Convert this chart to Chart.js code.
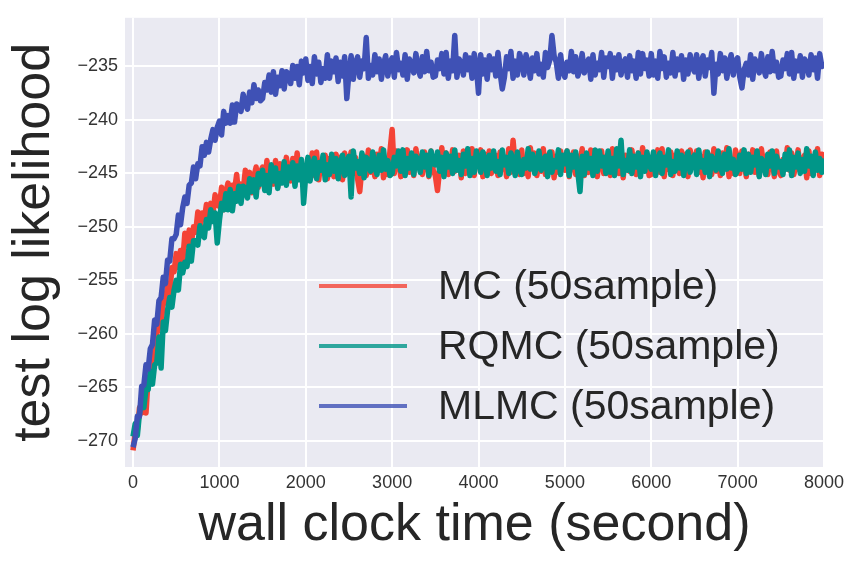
<!DOCTYPE html>
<html>
<head>
<meta charset="utf-8">
<script src="https://cdn.jsdelivr.net/npm/chart.js@4.4.1/dist/chart.umd.min.js"></script>
<style>
  html, body { margin: 0; padding: 0; background: #fff; }
  #wrap { width: 861px; height: 565px; }
</style>
</head>
<body>
<div id="wrap"><canvas id="chart" width="861" height="565"></canvas></div>
<script>
// wall clock time (s), one sample every 25 s
const times = [
  0, 25, 50, 75, 100, 125, 150, 175, 200, 225, 250, 275, 300, 325, 350, 375, 400, 425, 450, 475,
  500, 525, 550, 575, 600, 625, 650, 675, 700, 725, 750, 775, 800, 825, 850, 875, 900, 925, 950, 975,
  1000, 1025, 1050, 1075, 1100, 1125, 1150, 1175, 1200, 1225, 1250, 1275, 1300, 1325, 1350, 1375, 1400, 1425, 1450, 1475,
  1500, 1525, 1550, 1575, 1600, 1625, 1650, 1675, 1700, 1725, 1750, 1775, 1800, 1825, 1850, 1875, 1900, 1925, 1950, 1975,
  2000, 2025, 2050, 2075, 2100, 2125, 2150, 2175, 2200, 2225, 2250, 2275, 2300, 2325, 2350, 2375, 2400, 2425, 2450, 2475,
  2500, 2525, 2550, 2575, 2600, 2625, 2650, 2675, 2700, 2725, 2750, 2775, 2800, 2825, 2850, 2875, 2900, 2925, 2950, 2975,
  3000, 3025, 3050, 3075, 3100, 3125, 3150, 3175, 3200, 3225, 3250, 3275, 3300, 3325, 3350, 3375, 3400, 3425, 3450, 3475,
  3500, 3525, 3550, 3575, 3600, 3625, 3650, 3675, 3700, 3725, 3750, 3775, 3800, 3825, 3850, 3875, 3900, 3925, 3950, 3975,
  4000, 4025, 4050, 4075, 4100, 4125, 4150, 4175, 4200, 4225, 4250, 4275, 4300, 4325, 4350, 4375, 4400, 4425, 4450, 4475,
  4500, 4525, 4550, 4575, 4600, 4625, 4650, 4675, 4700, 4725, 4750, 4775, 4800, 4825, 4850, 4875, 4900, 4925, 4950, 4975,
  5000, 5025, 5050, 5075, 5100, 5125, 5150, 5175, 5200, 5225, 5250, 5275, 5300, 5325, 5350, 5375, 5400, 5425, 5450, 5475,
  5500, 5525, 5550, 5575, 5600, 5625, 5650, 5675, 5700, 5725, 5750, 5775, 5800, 5825, 5850, 5875, 5900, 5925, 5950, 5975,
  6000, 6025, 6050, 6075, 6100, 6125, 6150, 6175, 6200, 6225, 6250, 6275, 6300, 6325, 6350, 6375, 6400, 6425, 6450, 6475,
  6500, 6525, 6550, 6575, 6600, 6625, 6650, 6675, 6700, 6725, 6750, 6775, 6800, 6825, 6850, 6875, 6900, 6925, 6950, 6975,
  7000, 7025, 7050, 7075, 7100, 7125, 7150, 7175, 7200, 7225, 7250, 7275, 7300, 7325, 7350, 7375, 7400, 7425, 7450, 7475,
  7500, 7525, 7550, 7575, 7600, 7625, 7650, 7675, 7700, 7725, 7750, 7775, 7800, 7825, 7850, 7875, 7900, 7925, 7950, 7975,
  8000
];

const mcValues = [
  -270.9, -269.2, -269.0, -266.9, -267.4, -265.0, -267.4, -264.1, -263.9, -261.8, -262.4, -260.0, -259.3, -259.3, -256.9, -257.1, -255.4, -256.3, -253.8, -254.2,
  -252.5, -253.8, -252.2, -253.3, -250.6, -251.7, -250.3, -251.6, -250.0, -250.5, -248.6, -250.3, -248.7, -249.3, -247.9, -249.7, -247.8, -248.8, -247.0, -247.9,
  -248.1, -246.3, -248.4, -246.7, -245.9, -247.7, -246.1, -246.6, -245.1, -247.3, -246.0, -246.7, -244.7, -246.2, -244.9, -246.8, -245.3, -244.4, -246.3, -244.9,
  -244.4, -246.4, -243.8, -245.5, -244.8, -246.0, -243.8, -246.3, -244.1, -244.7, -245.5, -243.5, -244.9, -245.7, -243.6, -245.2, -243.1, -245.1, -244.1, -245.6,
  -245.4, -243.7, -244.6, -243.1, -245.2, -243.0, -245.6, -243.9, -244.9, -243.3, -245.5, -243.6, -244.1, -245.3, -243.2, -244.7, -243.5, -245.6, -243.1, -244.4,
  -244.3, -243.0, -245.0, -243.5, -245.5, -246.7, -244.5, -243.4, -245.2, -242.8, -244.9, -243.9, -245.3, -243.2, -244.4, -242.7, -245.4, -243.7, -245.1, -242.9,
  -240.9, -245.0, -242.9, -243.8, -245.3, -243.2, -244.6, -242.8, -244.9, -243.9, -245.2, -242.7, -244.2, -243.4, -245.1, -243.0, -243.7, -245.3, -242.9, -244.7,
  -245.2, -246.6, -244.6, -242.6, -244.7, -243.1, -245.1, -244.3, -242.8, -244.8, -243.9, -243.3, -245.4, -242.9, -245.0, -243.8, -244.4, -242.7, -245.2, -243.2,
  -244.1, -242.8, -245.3, -243.2, -244.4, -242.9, -245.0, -243.8, -243.3, -245.2, -243.0, -244.6, -243.6, -245.3, -242.7, -244.9, -241.9, -244.3, -243.4, -245.1,
  -242.8, -245.0, -243.6, -245.3, -242.6, -244.3, -243.1, -245.2, -243.8, -244.8, -242.7, -245.1, -243.3, -244.4, -243.0, -245.4, -243.4, -244.9, -242.9, -244.2,
  -244.7, -242.9, -245.3, -243.7, -243.0, -245.1, -243.4, -244.2, -242.7, -245.2, -243.9, -244.9, -242.8, -244.6, -243.2, -245.3, -243.8, -242.9, -245.0, -243.6,
  -243.2, -245.2, -242.7, -244.4, -243.8, -245.0, -242.9, -245.4, -243.3, -243.9, -244.8, -242.8, -244.3, -245.1, -243.1, -244.7, -242.6, -244.6, -243.7, -245.2,
  -245.1, -243.4, -244.3, -242.8, -244.9, -242.7, -245.3, -243.6, -244.6, -243.0, -245.2, -243.3, -243.8, -245.0, -242.9, -244.4, -243.2, -245.3, -242.8, -244.1,
  -244.2, -242.9, -244.9, -243.4, -245.4, -243.0, -244.4, -243.3, -245.1, -242.7, -244.8, -243.8, -245.2, -243.1, -244.3, -242.6, -245.3, -243.6, -245.0, -242.8,
  -243.6, -245.0, -242.9, -243.8, -245.3, -243.2, -244.6, -242.8, -244.9, -243.9, -245.2, -242.7, -244.2, -243.4, -245.1, -243.0, -243.7, -245.3, -242.9, -244.7,
  -245.2, -243.7, -244.6, -242.6, -244.7, -243.1, -245.1, -244.3, -242.8, -244.8, -243.9, -243.3, -245.4, -242.9, -245.0, -243.8, -244.4, -242.7, -245.2, -243.2,
  -244.6
];

const rqmcValues = [
  -269.6, -268.4, -269.5, -267.4, -266.1, -266.9, -265.1, -265.2, -263.5, -264.7, -262.9, -262.7, -260.3, -263.2, -258.9, -259.7, -257.8, -256.6, -257.5, -255.9,
  -255.0, -255.9, -253.5, -254.3, -253.3, -253.7, -251.8, -253.2, -251.3, -251.3, -251.7, -249.9, -250.7, -251.0, -249.3, -250.1, -248.4, -249.5, -248.7, -251.5,
  -249.4, -247.8, -248.4, -246.9, -248.4, -246.5, -248.5, -246.9, -247.6, -246.2, -247.8, -246.2, -246.4, -247.3, -245.5, -246.7, -245.6, -247.2, -245.0, -246.0,
  -244.7, -246.6, -245.2, -246.8, -244.2, -245.7, -244.5, -246.4, -245.0, -245.9, -243.9, -246.1, -244.4, -245.4, -244.0, -246.2, -244.3, -245.6, -243.7, -247.8,
  -245.1, -243.5, -245.7, -244.2, -243.6, -245.5, -244.0, -244.7, -243.3, -245.6, -244.2, -245.1, -243.2, -244.8, -243.6, -245.5, -244.1, -243.3, -245.2, -243.9,
  -243.4, -247.2, -242.9, -244.5, -243.9, -245.0, -243.1, -245.4, -243.5, -244.0, -244.8, -243.0, -244.4, -245.1, -243.3, -244.7, -242.8, -244.6, -243.8, -245.2,
  -245.0, -243.5, -244.3, -242.9, -244.8, -242.8, -245.2, -243.6, -244.5, -243.1, -245.1, -243.4, -243.8, -244.9, -243.0, -244.4, -243.3, -245.2, -242.9, -244.1,
  -244.2, -243.0, -244.8, -243.5, -245.3, -243.1, -244.4, -243.4, -245.0, -242.8, -244.7, -243.8, -245.1, -243.2, -244.3, -242.7, -245.2, -243.6, -244.9, -242.9,
  -243.6, -244.9, -243.0, -243.8, -245.2, -243.3, -244.5, -242.9, -244.8, -243.9, -245.1, -242.8, -244.2, -243.5, -245.0, -243.1, -243.7, -245.2, -243.0, -244.6,
  -245.1, -243.7, -244.5, -242.7, -244.6, -243.2, -245.0, -244.3, -242.9, -244.7, -243.9, -243.4, -245.3, -243.0, -244.9, -243.8, -244.4, -242.8, -245.1, -243.3,
  -244.1, -242.9, -245.2, -243.3, -244.4, -243.0, -244.9, -246.7, -243.4, -245.1, -243.1, -244.5, -243.6, -245.2, -242.8, -244.8, -242.9, -244.3, -243.5, -245.0,
  -242.9, -244.9, -243.6, -245.2, -242.7, -244.3, -241.9, -245.1, -243.8, -244.7, -242.8, -245.0, -243.4, -244.4, -243.1, -245.3, -243.5, -244.8, -243.0, -244.2,
  -244.6, -243.0, -245.2, -243.7, -243.1, -245.0, -243.5, -244.2, -242.8, -245.1, -243.9, -244.8, -242.9, -244.5, -243.3, -245.2, -243.8, -243.0, -244.9, -243.6,
  -243.3, -245.1, -242.8, -244.4, -243.8, -244.9, -243.0, -245.3, -243.4, -243.9, -244.7, -242.9, -244.3, -245.0, -243.2, -244.6, -242.7, -244.5, -243.7, -245.1,
  -244.7, -243.3, -244.6, -242.8, -245.0, -243.2, -244.9, -243.5, -244.2, -242.9, -245.3, -243.6, -244.0, -245.1, -243.2, -244.3, -242.9, -245.0, -243.4, -244.4,
  -243.9, -245.1, -243.2, -244.6, -242.8, -245.2, -243.5, -244.4, -243.1, -245.0, -243.7, -244.8, -242.7, -244.3, -243.4, -245.2, -243.0, -244.7, -243.6, -244.9,
  -243.6
];

const mlmcValues = [
  -270.6, -269.8, -267.7, -267.7, -264.9, -264.8, -262.9, -263.3, -261.4, -261.0, -258.7, -259.1, -256.9, -256.6, -254.7, -255.3, -253.1, -253.2, -251.1, -251.1,
  -250.7, -248.9, -249.8, -248.2, -247.2, -247.8, -246.1, -245.9, -244.4, -245.5, -244.1, -244.3, -242.5, -243.3, -242.1, -243.0, -241.8, -240.9, -241.9, -240.7,
  -240.1, -241.4, -239.2, -240.3, -239.6, -240.3, -238.6, -240.2, -238.5, -238.7, -239.2, -237.6, -238.5, -239.0, -237.4, -238.4, -236.7, -238.0, -237.2, -238.2,
  -238.0, -236.5, -237.2, -235.8, -237.4, -235.5, -237.6, -236.0, -236.8, -235.4, -237.1, -235.5, -235.7, -236.6, -234.9, -236.1, -235.0, -236.7, -234.5, -235.6,
  -234.3, -236.3, -235.0, -236.6, -234.1, -235.7, -234.6, -236.5, -235.2, -236.1, -233.9, -236.1, -234.5, -235.5, -234.2, -236.4, -234.6, -235.9, -234.1, -238.0,
  -235.6, -234.0, -236.2, -234.7, -234.1, -236.0, -234.5, -235.2, -232.3, -236.1, -234.9, -235.8, -233.9, -235.5, -234.3, -236.2, -234.8, -234.0, -235.9, -234.6,
  -234.2, -236.0, -233.7, -235.3, -234.7, -235.8, -233.9, -236.2, -234.3, -234.8, -235.6, -233.8, -235.2, -235.9, -234.1, -235.5, -233.6, -235.4, -234.6, -236.0,
  -235.9, -234.4, -235.2, -233.8, -235.7, -233.7, -236.1, -234.5, -235.4, -232.1, -236.0, -234.3, -234.7, -235.8, -233.9, -235.3, -234.2, -236.1, -233.8, -235.0,
  -237.5, -233.9, -235.7, -234.4, -236.2, -234.0, -235.3, -234.3, -235.9, -233.7, -235.6, -237.1, -236.0, -234.1, -235.2, -233.6, -236.1, -234.5, -235.8, -233.8,
  -234.5, -235.8, -233.9, -234.7, -236.1, -234.2, -235.4, -233.8, -235.7, -234.8, -236.0, -233.7, -235.1, -234.4, -232.1, -234.0, -234.6, -236.1, -233.9, -235.5,
  -236.0, -234.6, -235.4, -233.6, -235.5, -234.1, -235.9, -235.2, -233.8, -235.6, -234.8, -234.3, -236.2, -233.9, -235.8, -234.7, -235.3, -233.7, -236.0, -234.2,
  -235.0, -233.8, -236.1, -234.2, -235.3, -233.9, -235.8, -234.7, -234.3, -236.0, -234.0, -235.4, -234.5, -236.1, -233.7, -235.7, -233.8, -235.2, -234.4, -235.9,
  -233.8, -235.8, -234.5, -236.1, -233.6, -235.2, -234.1, -236.0, -234.7, -235.6, -233.7, -235.9, -234.3, -235.3, -234.0, -236.2, -234.4, -235.7, -233.9, -235.1,
  -235.5, -233.9, -236.1, -234.6, -234.0, -235.9, -234.4, -235.1, -233.7, -237.5, -234.8, -235.7, -233.8, -235.4, -234.2, -236.1, -234.7, -233.9, -235.8, -234.5,
  -234.2, -236.0, -237.0, -235.3, -234.7, -235.8, -233.9, -236.2, -234.3, -234.8, -235.6, -233.8, -235.2, -235.9, -234.1, -235.5, -233.6, -235.4, -234.6, -236.0,
  -235.9, -234.4, -235.2, -233.8, -235.7, -233.7, -236.1, -234.5, -235.4, -234.0, -236.0, -234.3, -234.7, -235.8, -233.9, -235.3, -234.2, -236.1, -233.8, -235.0,
  -234.6
];

const seriesLabels = ['MC (50sample)', 'RQMC (50sample)', 'MLMC (50sample)'];
const xTicks = [0, 1000, 2000, 3000, 4000, 5000, 6000, 7000, 8000];
const yTicks = [-270, -265, -260, -255, -250, -245, -240, -235];

const toPoints = vals => vals.map((v, i) => ({ x: times[i], y: v }));

// grey seaborn-style panel behind the grid
const panelBackground = {
  id: 'panelBackground',
  beforeDraw(chart) {
    const { ctx, chartArea: a } = chart;
    ctx.save();
    ctx.fillStyle = '#EAEAF2';
    ctx.fillRect(a.left, a.top, a.right - a.left, a.bottom - a.top);
    ctx.restore();
  }
};

// legend sits inside the plot, lower right
const insideLegend = {
  id: 'insideLegend',
  afterDatasetsDraw(chart) {
    const ctx = chart.ctx;
    ctx.save();
    chart.data.datasets.forEach((ds, i) => {
      const y = 286 + i * 60;
      ctx.globalAlpha = 0.8;
      ctx.strokeStyle = ds.borderColor;
      ctx.lineWidth = 4;
      ctx.beginPath();
      ctx.moveTo(319, y);
      ctx.lineTo(407, y);
      ctx.stroke();
      ctx.globalAlpha = 1;
      ctx.fillStyle = '#262626';
      ctx.font = '41px "Liberation Sans", Arial, sans-serif';
      ctx.textBaseline = 'middle';
      ctx.fillText(ds.label, 438, y + 2);
    });
    ctx.restore();
  }
};

const tickFont = { family: '"Liberation Sans", Arial, sans-serif', size: 18 };
const titleFont = { family: '"Liberation Sans", Arial, sans-serif', size: 52 };

new Chart(document.getElementById('chart').getContext('2d'), {
  type: 'line',
  data: {
    datasets: [
      { label: seriesLabels[0], data: toPoints(mcValues), borderColor: '#F44336', order: 2 },
      { label: seriesLabels[1], data: toPoints(rqmcValues), borderColor: '#009688', order: 1 },
      { label: seriesLabels[2], data: toPoints(mlmcValues), borderColor: '#3F51B5', order: 0 }
    ].map(d => Object.assign(d, { borderWidth: 5.5, pointRadius: 0, tension: 0, fill: false, borderJoinStyle: 'round' }))
  },
  options: {
    responsive: false,
    animation: false,
    devicePixelRatio: 1,
    layout: { padding: { top: 15, right: 37, left: 0, bottom: 0 } },
    plugins: { legend: { display: false }, tooltip: { enabled: false } },
    scales: {
      x: {
        type: 'linear',
        min: -93,
        max: 8000,
        afterBuildTicks: s => { s.ticks = xTicks.map(v => ({ value: v })); },
        afterFit: s => { s.height = 98; },
        grid: { color: '#ffffff', lineWidth: 2, drawTicks: false },
        border: { display: false },
        ticks: { padding: 5, color: '#333', font: tickFont, maxRotation: 0, callback: v => String(v) },
        title: { display: true, text: 'wall clock time (second)', color: '#262626', font: titleFont, padding: { top: 0, bottom: 8 } }
      },
      y: {
        type: 'linear',
        min: -272.45,
        max: -230.45,
        afterBuildTicks: s => { s.ticks = yTicks.map(v => ({ value: v })); },
        afterFit: s => { s.width = 125; },
        grid: { color: '#ffffff', lineWidth: 2, drawTicks: false },
        border: { display: false },
        ticks: { padding: 7, color: '#333', font: tickFont, callback: v => '\u2212' + Math.abs(v) },
        title: { display: true, text: 'test log likelihood', color: '#262626', font: titleFont, padding: { top: 3, bottom: 0 } }
      }
    }
  },
  plugins: [panelBackground, insideLegend]
});
</script>
</body>
</html>
